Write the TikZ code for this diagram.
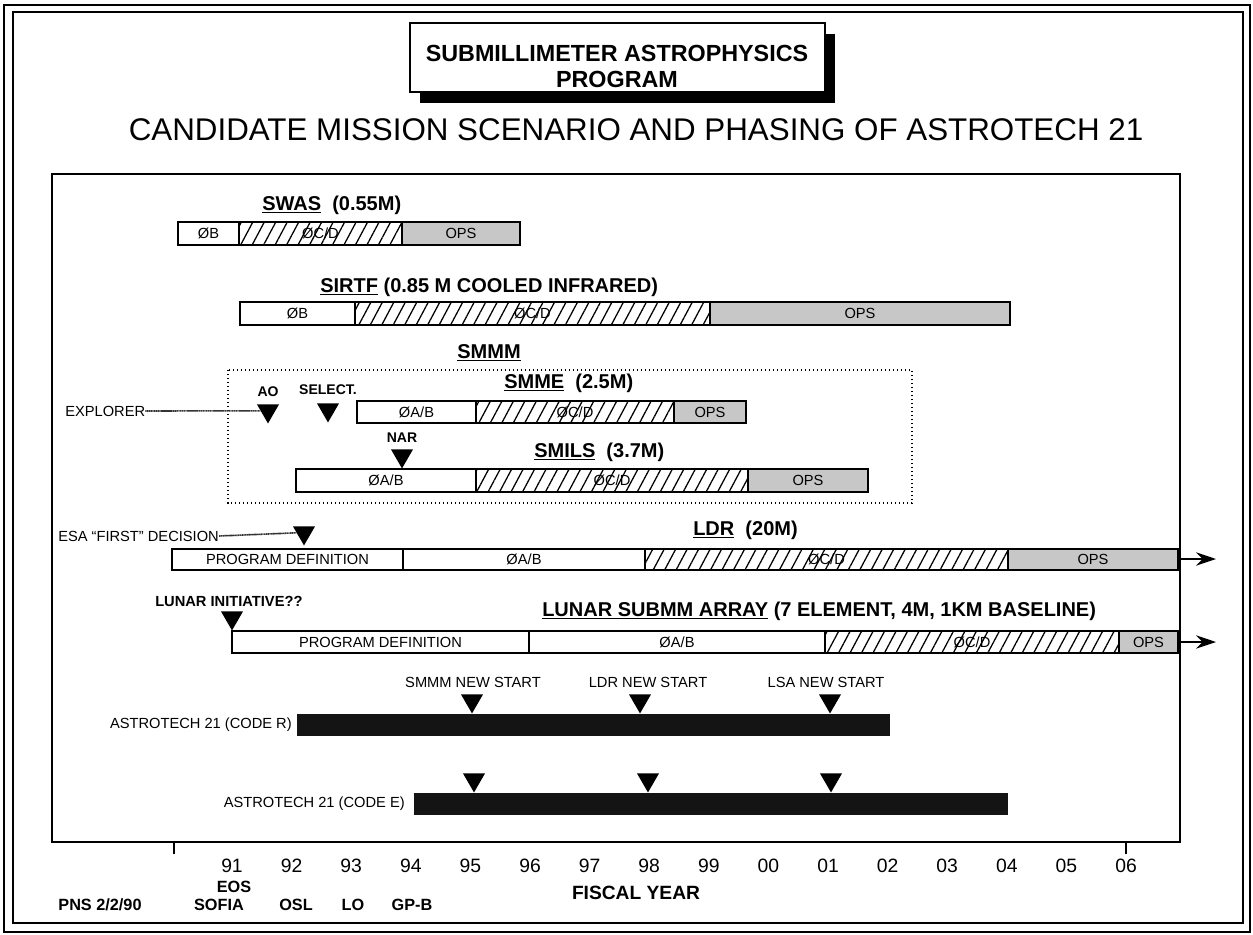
\documentclass[tikz,border=0pt]{standalone}
\usepackage{fontspec}
\setmainfont{Liberation Sans}
\usetikzlibrary{shapes.geometric,patterns.meta,arrows.meta}

\begin{document}
\begin{tikzpicture}
[
x=0.75pt, y=-0.75pt,
OuterFrame/.style={draw=black, line width=1.5pt},
Frame/.style={draw=black, line width=1.1pt},
Shadow/.style={fill=black},
TitleBox/.style={draw=black, fill=white, line width=1.4pt},
PlainSeg/.style={draw=black, fill=white, line width=1pt},
HatchSeg/.style={draw=black, line width=1pt, pattern={Lines[angle=62,distance=7.6pt,line width=0.95pt]}},
OpsSeg/.style={draw=black, fill=black!22, line width=1pt},
BlackBar/.style={fill=black!92},
SegText/.style={font=\fontsize{11}{13}\selectfont, inner sep=0pt},
MissionLabel/.style={font=\bfseries\fontsize{15}{18}\selectfont, anchor=west, inner sep=0pt},
SmallLabel/.style={font=\fontsize{11}{13}\selectfont, inner sep=0pt},
SmallBold/.style={font=\bfseries\fontsize{10.5}{12}\selectfont, inner sep=0pt},
Marker/.style={regular polygon, regular polygon sides=3, shape border rotate=180, fill=black, minimum size=19pt, inner sep=0pt, anchor=south},
Leader/.style={line width=1.2pt, draw=black!80, dash pattern=on 1pt off 0.3pt},
DotBox/.style={line width=1pt, dotted},
EndArrow/.style={-{Stealth[length=15pt,width=10pt]}, line width=1.2pt},
YearText/.style={font=\fontsize{14.5}{17}\selectfont, inner sep=0pt},
FootText/.style={font=\bfseries\fontsize{12.2}{14}\selectfont, inner sep=0pt},
]

\useasboundingbox (0,0) rectangle (1253,935);

% frames and titles
\draw[OuterFrame] (4,5) rectangle (1250,932);
\draw[OuterFrame] (13,12) rectangle (1243,923);
\fill[Shadow] (420,34) rectangle (835,103);
\draw[TitleBox] (410,23) rectangle (825,92);
\node[font=\bfseries\fontsize{17.5}{19.5}\selectfont, align=center] (progTitle) at (617,66) {SUBMILLIMETER ASTROPHYSICS\\PROGRAM};
\node[font=\fontsize{23.5}{28}\selectfont] (mainTitle) at (636,130) {CANDIDATE MISSION SCENARIO AND PHASING OF ASTROTECH 21};
\draw[Frame] (52,174) rectangle (1180,842);

% SWAS
\node[MissionLabel] (swasLabel) at (262,205) {\underline{SWAS}\ \ (0.55M)};
\draw[PlainSeg] (178,222) rectangle node[SegText]{ØB} (239,245);
\draw[HatchSeg] (239,222) rectangle node[SegText]{ØC/D} (402,245);
\draw[OpsSeg] (402,222) rectangle node[SegText]{OPS} (520,245);

% SIRTF
\node[MissionLabel] (sirtfLabel) at (320,287) {\underline{SIRTF} (0.85 M COOLED INFRARED)};
\draw[PlainSeg] (240,302) rectangle node[SegText]{ØB} (355,325);
\draw[HatchSeg] (355,302) rectangle node[SegText]{ØC/D} (710,325);
\draw[OpsSeg] (710,302) rectangle node[SegText]{OPS} (1010,325);

% SMMM
\node[MissionLabel, anchor=center] (smmmLabel) at (489,353) {\underline{SMMM}};
\draw[DotBox] (228,370) rectangle (912,503);
\node[MissionLabel] (smmeLabel) at (504,383) {\underline{SMME}\ \ (2.5M)};
\node[SmallBold] (aoLabel) at (268,392) {AO};
\node[SmallBold] (selLabel) at (328,390) {SELECT.};
\node[Marker] (aoMark) at (268,424) {};
\node[Marker] (selMark) at (328,423) {};
\node[SmallLabel, anchor=west] (explorer) at (65,411) {EXPLORER};
\draw[Leader] (explorer.east) -- (aoMark.west);
\draw[PlainSeg] (357,401) rectangle node[SegText]{ØA/B} (476,423);
\draw[HatchSeg] (476,401) rectangle node[SegText]{ØC/D} (674,423);
\draw[OpsSeg] (674,401) rectangle node[SegText]{OPS} (746,423);
\node[SmallBold] (narLabel) at (402,438) {NAR};
\node[Marker] (narMark) at (402,469) {};
\node[MissionLabel] (smilsLabel) at (534,452) {\underline{SMILS}\ \ (3.7M)};
\draw[PlainSeg] (296,469) rectangle node[SegText]{ØA/B} (476,492);
\draw[HatchSeg] (476,469) rectangle node[SegText]{ØC/D} (748,492);
\draw[OpsSeg] (748,469) rectangle node[SegText]{OPS} (868,492);

% LDR
\node[SmallLabel, anchor=west] (esaLabel) at (58,536) {ESA “FIRST” DECISION};
\node[Marker] (esaMark) at (304,546) {};
\draw[Leader] (esaLabel.east) -- (esaMark.west);
\node[MissionLabel] (ldrLabel) at (693,530) {\underline{LDR}\ \ (20M)};
\draw[PlainSeg] (172,549) rectangle node[SegText]{PROGRAM DEFINITION} (403,570);
\draw[PlainSeg] (403,549) rectangle node[SegText]{ØA/B} (645,570);
\draw[HatchSeg] (645,549) rectangle node[SegText]{ØC/D} (1008,570);
\draw[OpsSeg] (1008,549) rectangle node[SegText]{OPS} (1178,570);
\coordinate (ldrEnd) at (1178,559);
\coordinate (ldrTip) at (1216,559);
\draw[EndArrow] (ldrEnd) -- (ldrTip);

% lunar array
\node[SmallBold, anchor=west, font=\bfseries\fontsize{11}{13}\selectfont] (lunarInit) at (155,601) {LUNAR INITIATIVE??};
\node[Marker] (lunarMark) at (232,631) {};
\node[MissionLabel] (lsaLabel) at (542,611) {\underline{LUNAR SUBMM ARRAY} (7 ELEMENT, 4M, 1KM BASELINE)};
\draw[PlainSeg] (232,631) rectangle node[SegText]{PROGRAM DEFINITION} (529,653);
\draw[PlainSeg] (529,631) rectangle node[SegText]{ØA/B} (825,653);
\draw[HatchSeg] (825,631) rectangle node[SegText]{ØC/D} (1119,653);
\draw[OpsSeg] (1119,631) rectangle node[SegText]{OPS} (1178,653);
\coordinate (lsaEnd) at (1178,642);
\coordinate (lsaTip) at (1216,642);
\draw[EndArrow] (lsaEnd) -- (lsaTip);

% astrotech 21
\node[SmallLabel] (smmmStart) at (473,682) {SMMM NEW START};
\node[SmallLabel] (ldrStart) at (648,682) {LDR NEW START};
\node[SmallLabel] (lsaStart) at (826,682) {LSA NEW START};
\node[Marker] (rMarkA) at (472,714) {};
\node[Marker] (rMarkB) at (640,714) {};
\node[Marker] (rMarkC) at (830,714) {};
\fill[BlackBar] (297,714) rectangle (890,736);
\node[SmallLabel, anchor=east] (codeR) at (292,725) {ASTROTECH 21 (CODE R)};
\node[Marker] (eMarkA) at (474,793) {};
\node[Marker] (eMarkB) at (648,793) {};
\node[Marker] (eMarkC) at (831,793) {};
\fill[BlackBar] (414,793) rectangle (1008,815);
\node[SmallLabel, anchor=east] (codeE) at (405,804) {ASTROTECH 21 (CODE E)};

% fiscal year axis
\draw[line width=1pt] (174,842) -- (174,854);
\draw[line width=1pt] (1126,842) -- (1126,854);
\foreach \yr [count=\i from 0] in {91,92,93,94,95,96,97,98,99,00,01,02,03,04,05,06}
  \node[YearText] (year\yr) at ({232+59.6*\i},866) {\yr};
\node[FootText] (eos) at (234,887) {EOS};
\node[FootText] (sofia) at (219,905) {SOFIA};
\node[FootText] (osl) at (296,905) {OSL};
\node[FootText] (lo) at (353,905) {LO};
\node[FootText] (gpb) at (412,905) {GP-B};
\node[FootText] (pns) at (100,905) {PNS 2/2/90};
\node[FootText, font=\bfseries\fontsize{14.4}{17}\selectfont] (fiscal) at (636,893) {FISCAL YEAR};

\end{tikzpicture}
\end{document}
